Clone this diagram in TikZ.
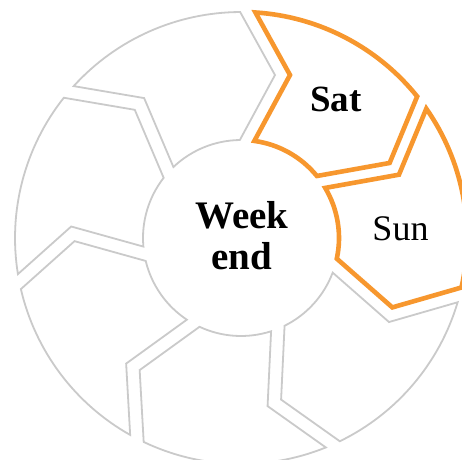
\documentclass[tikz,border=0pt]{standalone}
\usepackage{fontspec}
\setmainfont{Liberation Serif}
\definecolor{segorange}{HTML}{F7972E}
\definecolor{seggray}{HTML}{CACACA}
\newcommand\segshape{(86.34:226pt) -- (73.27:170.2pt) -- (82.17:98pt) arc[start angle=82.17, end angle=39.25, radius=98pt] -- (26.79:166.5pt) -- (38.78:226pt) arc[start angle=38.78, end angle=86.34, radius=226pt] -- cycle}
\begin{document}
\begin{tikzpicture}[x=1pt,y=1pt,
  seg/.style={draw=seggray, line width=1.8pt, fill=white, line join=miter},
  hot/.style={draw=segorange, line width=4.6pt, fill=white, line join=miter},
  lbl/.style={font=\fontsize{36}{43}\selectfont},
  blbl/.style={font=\fontsize{37}{43}\selectfont\bfseries},
  hubl/.style={font=\fontsize{39}{41.7}\selectfont\bfseries, align=center}]
\useasboundingbox (-241,-221) rectangle (221,238);
\foreach \i in {2,...,6} {
  \draw[seg, rotate=-51.4286*\i] \segshape;
}
\foreach \i in {0,1} {
  \draw[hot, rotate=-51.4286*\i] \segshape;
}
\node[blbl] (sat) at (95,138.5) {Sat};
\node[lbl] (sun) at (159.5,9.3) {Sun};
\node[hubl] (hub) at (1,2.2) {Week\\end};
\end{tikzpicture}
\end{document}
